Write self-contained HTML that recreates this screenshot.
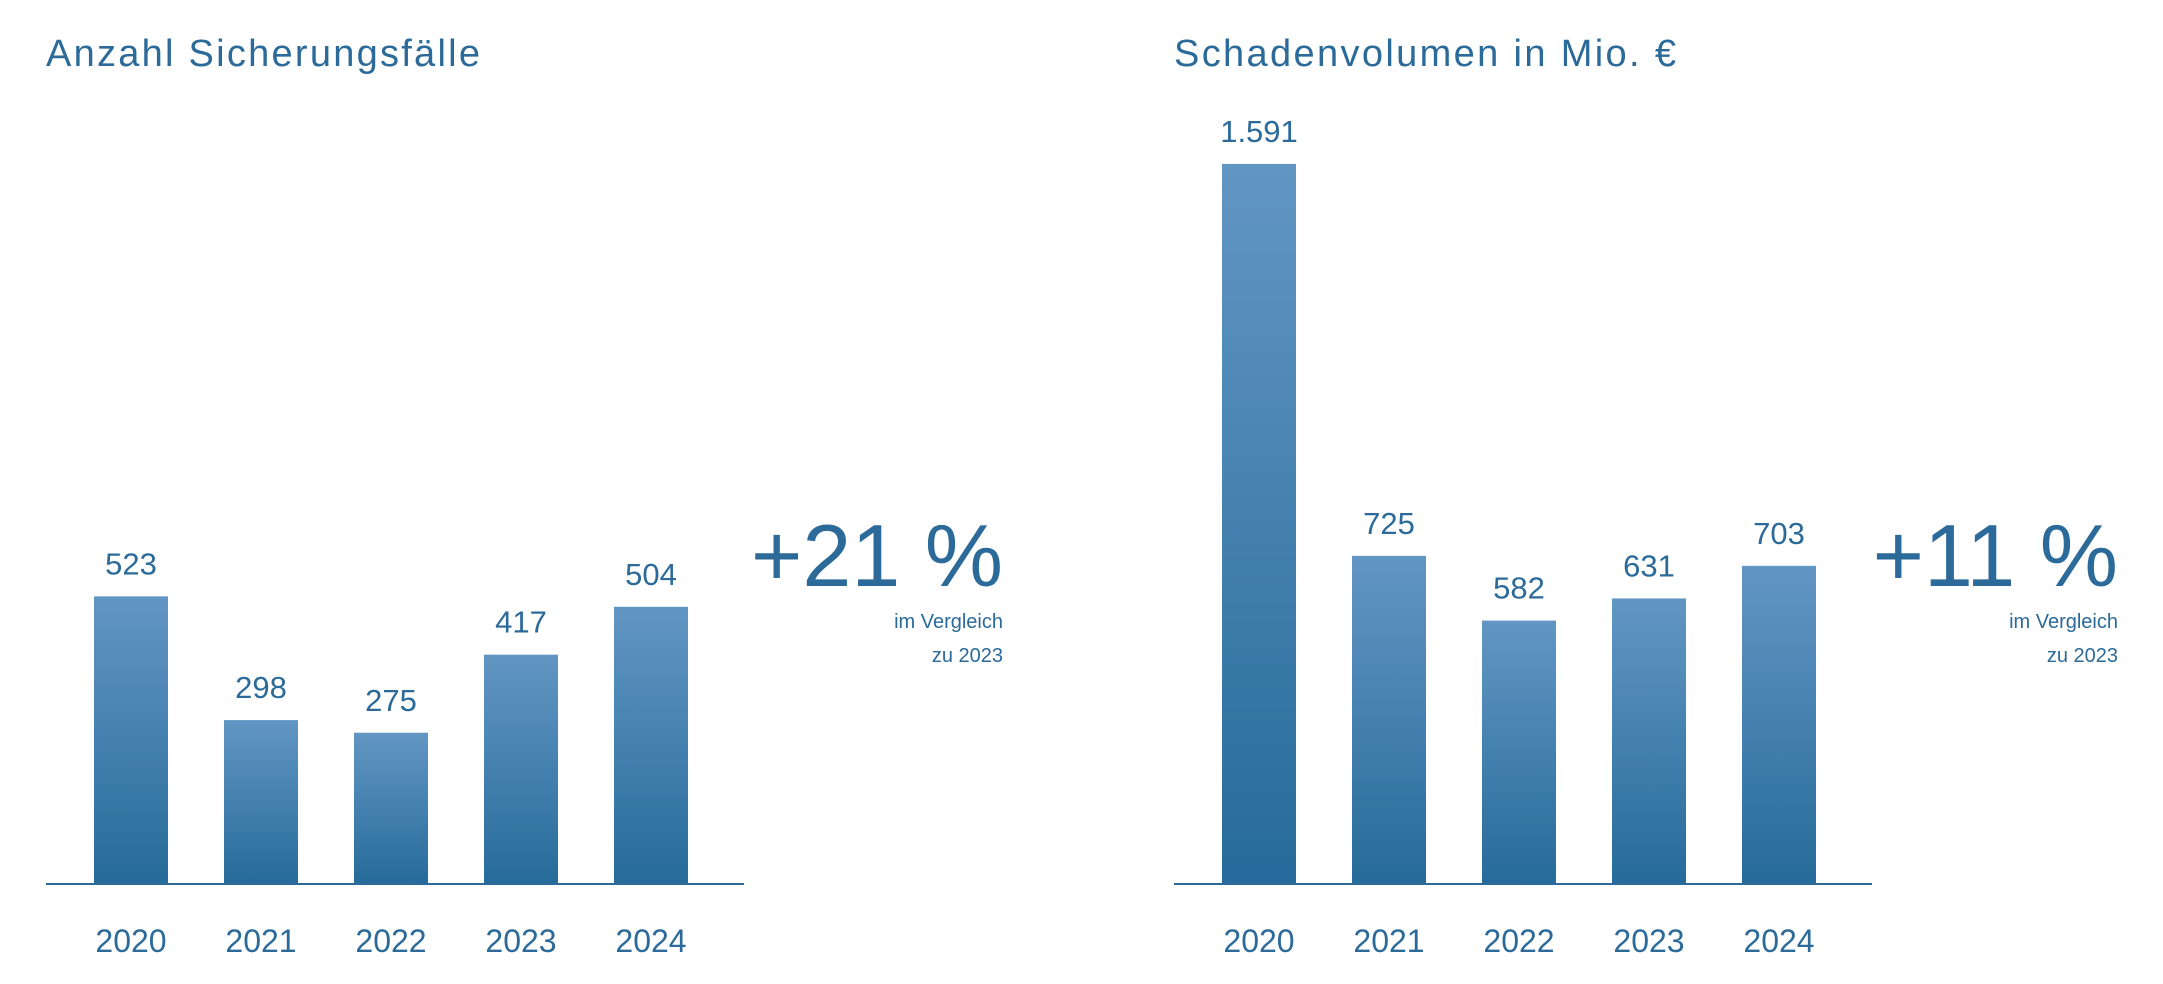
<!DOCTYPE html>
<html><head><meta charset="utf-8"><style>
html,body{margin:0;padding:0;background:#fff;}
svg{display:block;font-family:"Liberation Sans",sans-serif;}
</style></head><body>
<svg id="c" width="2163" height="984" viewBox="0 0 2163 984">
<defs><linearGradient id="g" x1="0" y1="0" x2="0" y2="1"><stop offset="0" stop-color="#6296c3"/><stop offset="1" stop-color="#266b9b"/></linearGradient></defs>
<g fill="#2b6a99">
<text x="46" y="66" font-size="38" textLength="434">Anzahl Sicherungsfälle</text>
<text x="1174" y="66" font-size="38" textLength="502">Schadenvolumen in Mio. €</text>
<text x="1003" y="586" font-size="88" text-anchor="end">+21 %</text>
<text x="1003" y="628" font-size="20" text-anchor="end">im Vergleich</text>
<text x="1003" y="662" font-size="20" text-anchor="end">zu 2023</text>
<text x="2118" y="586" font-size="88" text-anchor="end">+11 %</text>
<text x="2118" y="628" font-size="20" text-anchor="end">im Vergleich</text>
<text x="2118" y="662" font-size="20" text-anchor="end">zu 2023</text>
</g>
<g id="left"></g>
<g id="right"></g>
</svg>
<script>
const categories = ["2020","2021","2022","2023","2024"];
const casesValues = [523, 298, 275, 417, 504];
const casesLabels = ["523","298","275","417","504"];
const damageValues = [1591, 725, 582, 631, 703];
const damageLabels = ["1.591","725","582","631","703"];

const NS = "http://www.w3.org/2000/svg";
function mk(tag, attrs, parent){const e=document.createElementNS(NS,tag);for(const k in attrs)e.setAttribute(k,attrs[k]);parent.appendChild(e);return e;}
function draw(gid, prefix, values, labels, x0, x1, firstBar, pitch, bw, scale){
  const g=document.getElementById(gid);
  const baseY=884;
  const yScale=v=>baseY - v*scale;
  const xScale=i=>firstBar + i*pitch;
  values.forEach((v,i)=>{
    const r=mk('rect',{x:xScale(i),y:yScale(v),width:bw,height:baseY-yScale(v),fill:'url(#g)'},g);
    
    
    const t=mk('text',{x:xScale(i)+bw/2,y:yScale(v)-22,'font-size':31,'text-anchor':'middle',fill:'#2b6a99'},g);
    t.textContent=labels[i];
    
    
    const c=mk('text',{x:xScale(i)+bw/2,y:952,'font-size':32,'text-anchor':'middle',fill:'#2b6a99'},g);
    c.textContent=categories[i];
    
    
  });
  const l=mk('line',{x1:x0,x2:x1,y1:baseY,y2:baseY,stroke:'#2b6a99','stroke-width':2},g);
  
  
}
draw('left','cases',casesValues,casesLabels,46,744,94,130,74,0.55);
draw('right','damage',damageValues,damageLabels,1174,1872,1222,130,74,0.4526);
</script>
</body></html>
